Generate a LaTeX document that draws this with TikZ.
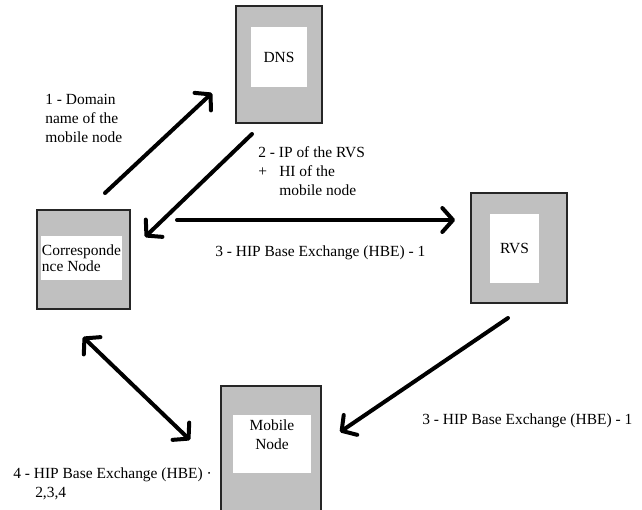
\documentclass[tikz,border=0pt]{standalone}
\usepackage{fontspec}
\setmainfont{Liberation Serif}
\usepackage{xcolor}
\usetikzlibrary{arrows.meta}
\definecolor{boxgray}{RGB}{192,192,192}

\begin{document}
\begin{tikzpicture}[x=0.75pt, y=-0.75pt,
  >={Straight Barb[length=8pt, width=18pt, line cap=round, line join=round]}]
% Define styles
\tikzstyle{every node} = [font=\rmfamily\fontsize{11.6}{14.25}\selectfont]
\tikzstyle{outer} = [rectangle, draw=black!85, fill=boxgray, line width=0.8pt, inner sep=0pt]
\tikzstyle{inner} = [rectangle, fill=white, inner sep=1pt]
\tikzstyle{note} = [anchor=north west, inner sep=0pt, align=left]
\tikzstyle{msg} = [line width=3pt, line cap=round, line join=round]
\useasboundingbox (0,0) rectangle (642,510);
\clip (0,0) rectangle (642,510);
% Define nodes
\node[outer, minimum width=64.5pt, minimum height=87.75pt] (dns_box) at (279,64.5) {};
\node[inner, minimum width=42pt, minimum height=45pt] (dns) at (279,57) {DNS};
\node[outer, minimum width=69.75pt, minimum height=74.25pt] (cn_box) at (83.5,259.5) {};
\node[inner, minimum width=60.75pt, minimum height=33pt, align=left,
  font=\rmfamily\fontsize{11.6}{12}\selectfont] (cn) at (81.5,258) {Corresponde\\nce Node};
\node[outer, minimum width=72pt, minimum height=82.5pt] (rvs_box) at (519,248) {};
\node[inner, minimum width=36.75pt, minimum height=51.75pt] (rvs) at (514.5,248.5) {RVS};
\node[outer, minimum width=75pt, minimum height=100.5pt] (mn_box) at (271,453) {};
\node[inner, minimum width=58.5pt, minimum height=43.5pt] (mn) at (272,444) {};
\node[anchor=north, inner sep=0pt, align=center] (mn_text) at ([yshift=-3.75pt]mn.north) {Mobile\\Node};

\node[note] (msg1) at (45,94) {1 - Domain\\name of the\\mobile node};
\node[note] (msg2) at (258,146) {2 - IP of the RVS\\\makebox[15.75pt][l]{+}HI of the\\\hspace*{15.75pt}mobile node};
\node[note] (msg3a) at (215,245) {3 - HIP Base Exchange (HBE) - 1};
\node[note] (msg3b) at (422,413) {3 - HIP Base Exchange (HBE) - 1};
\node[note] (msg4) at (13,467) {4 - HIP Base Exchange (HBE) \textperiodcentered\\\hspace*{16.5pt}2,3,4};

% Arrow ends
\coordinate (q1_from) at (105,193);
\coordinate (q1_to) at (212,93);
\coordinate (r2_from) at (252,134);
\coordinate (r2_to) at (145,237);
\coordinate (hbe1_from) at (177,220);
\coordinate (hbe1_to) at (455,220);
\coordinate (hbe1b_from) at (508,318);
\coordinate (hbe1b_to) at (340,432);
\coordinate (hbe2_a) at (83,337);
\coordinate (hbe2_b) at (190,440);

% Connect the nodes
\draw[msg, ->] (q1_from) -- (q1_to);
\draw[msg, ->] (r2_from) -- (r2_to);
\draw[msg, ->] (hbe1_from) -- (hbe1_to);
\draw[msg, ->] (hbe1b_from) -- (hbe1b_to);
\draw[msg, <->] (hbe2_a) -- (hbe2_b);

\end{tikzpicture}
\end{document}
